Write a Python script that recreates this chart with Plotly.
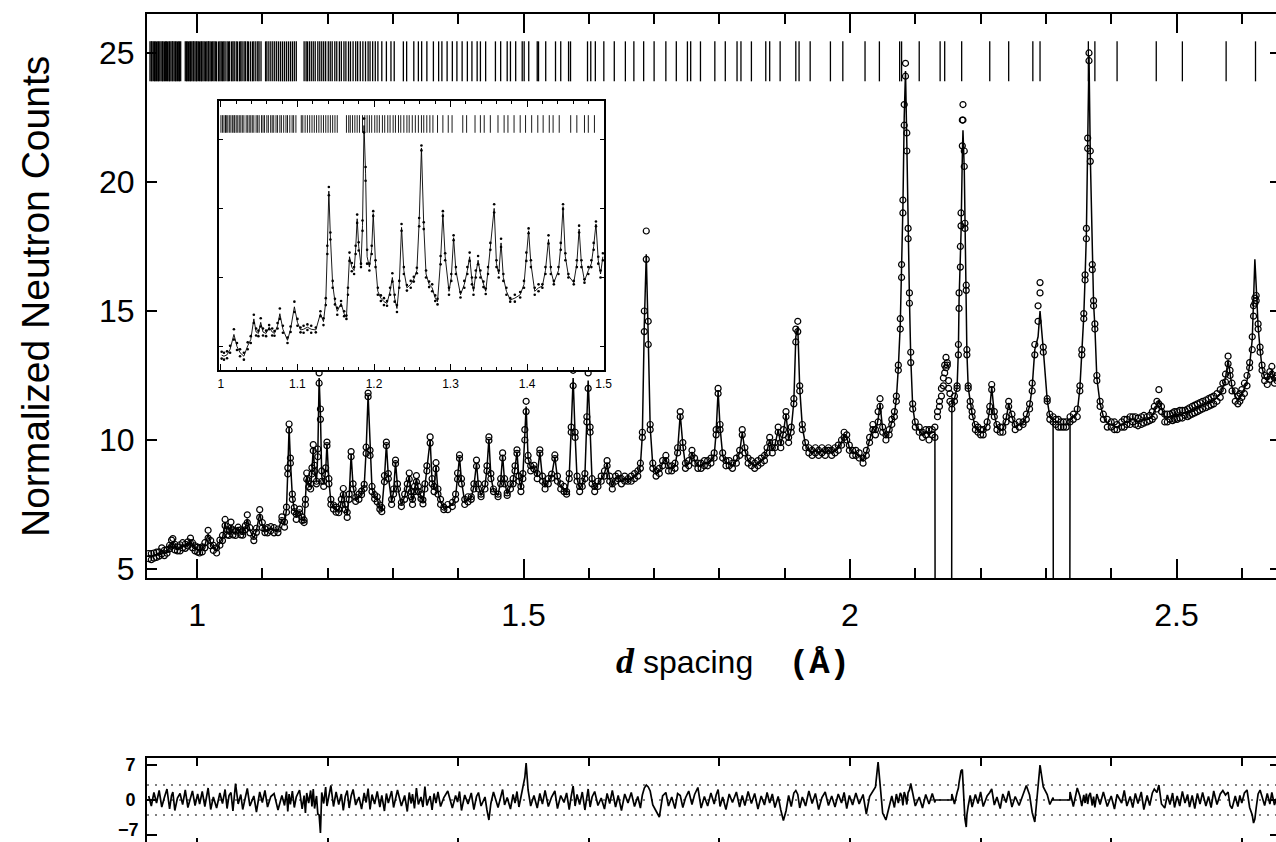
import plotly.graph_objects as go

# ---------------- data ----------------
d_spacing = [
    0.926, 0.930, 0.934, 0.938, 0.942, 0.946, 0.950, 0.954, 0.958, 0.961,
    0.963, 0.966, 0.970, 0.974, 0.978, 0.982, 0.986, 0.990, 0.993, 0.997,
    1.001, 1.004, 1.008, 1.012, 1.017, 1.021, 1.025, 1.030, 1.035, 1.039,
    1.043, 1.046, 1.049, 1.052, 1.055, 1.059, 1.063, 1.067, 1.070, 1.074,
    1.077, 1.081, 1.087, 1.091, 1.096, 1.100, 1.104, 1.108, 1.113, 1.118,
    1.124, 1.130, 1.134, 1.137, 1.139, 1.141, 1.143, 1.146, 1.149, 1.152,
    1.157, 1.161, 1.164, 1.166, 1.168, 1.171, 1.174, 1.176, 1.178, 1.180,
    1.183, 1.185, 1.187, 1.189, 1.191, 1.194, 1.197, 1.199, 1.202, 1.205,
    1.209, 1.213, 1.217, 1.221, 1.224, 1.227, 1.230, 1.233, 1.236, 1.239,
    1.243, 1.248, 1.252, 1.256, 1.259, 1.262, 1.265, 1.268, 1.272, 1.276,
    1.280, 1.283, 1.287, 1.290, 1.293, 1.298, 1.301, 1.304, 1.307, 1.313,
    1.318, 1.322, 1.325, 1.328, 1.330, 1.333, 1.336, 1.339, 1.343, 1.346,
    1.349, 1.352, 1.357, 1.360, 1.363, 1.366, 1.369, 1.373, 1.378, 1.384,
    1.391, 1.396, 1.399, 1.402, 1.405, 1.410, 1.415, 1.420, 1.424, 1.428,
    1.431, 1.435, 1.441, 1.444, 1.447, 1.450, 1.454, 1.461, 1.465, 1.468,
    1.471, 1.475, 1.480, 1.484, 1.487, 1.490, 1.493, 1.496, 1.499, 1.502,
    1.504, 1.507, 1.511,
    1.516, 1.521, 1.525, 1.529, 1.533, 1.538, 1.543, 1.548, 1.552, 1.557,
    1.562, 1.566, 1.570, 1.573, 1.576, 1.579, 1.582, 1.586, 1.590, 1.594,
    1.597, 1.599, 1.602, 1.605, 1.609, 1.614, 1.619, 1.624, 1.628, 1.632,
    1.636, 1.641, 1.645, 1.650, 1.655, 1.660, 1.665, 1.670, 1.675, 1.679,
    1.682, 1.685, 1.688, 1.691, 1.694, 1.698,
    1.703, 1.708, 1.713, 1.718, 1.722, 1.727, 1.732, 1.736, 1.740, 1.744,
    1.748, 1.753, 1.758, 1.762, 1.767, 1.772, 1.777, 1.782, 1.787, 1.792,
    1.795, 1.798, 1.801, 1.805, 1.810, 1.815, 1.820, 1.826, 1.831, 1.835,
    1.839, 1.844, 1.849, 1.854, 1.859, 1.864, 1.869, 1.873, 1.877, 1.881,
    1.885, 1.890, 1.894, 1.898, 1.902, 1.906, 1.910, 1.914, 1.917, 1.920,
    1.923, 1.927, 1.932, 1.937, 1.942, 1.947, 1.952, 1.957, 1.962, 1.967,
    1.972, 1.977, 1.982, 1.987, 1.991, 1.995, 1.999, 2.004, 2.009, 2.014,
    2.020, 2.025, 2.030, 2.035, 2.039, 2.043, 2.046, 2.050, 2.055, 2.060,
    2.064, 2.068, 2.071, 2.074, 2.077, 2.079, 2.081, 2.083, 2.085, 2.087,
    2.089, 2.091, 2.093, 2.096, 2.100, 2.106, 2.111, 2.116, 2.121, 2.126,
    2.130,
    2.1305, 2.134, 2.137, 2.140, 2.143, 2.145, 2.147, 2.149, 2.151, 2.153,
    2.1555,
    2.156, 2.160, 2.164, 2.166, 2.167, 2.169, 2.170, 2.172, 2.173, 2.175,
    2.176, 2.178, 2.179, 2.181, 2.184, 2.187, 2.192, 2.196, 2.200, 2.204,
    2.210, 2.214, 2.217, 2.221, 2.225, 2.230, 2.234, 2.239, 2.243, 2.248,
    2.253, 2.259, 2.265, 2.270, 2.275, 2.279, 2.283, 2.288, 2.291, 2.296,
    2.302, 2.306, 2.311,
    2.3115, 2.315, 2.319, 2.323, 2.327, 2.331, 2.3365,
    2.337, 2.342, 2.348, 2.352, 2.355, 2.358, 2.360, 2.362, 2.364, 2.366,
    2.368, 2.371, 2.373, 2.375, 2.378, 2.383, 2.388, 2.394, 2.400, 2.405,
    2.409, 2.416, 2.420, 2.424, 2.429, 2.433, 2.437, 2.441, 2.446, 2.450,
    2.455, 2.459, 2.463, 2.466, 2.470, 2.473, 2.477, 2.482, 2.486, 2.490,
    2.494, 2.497, 2.501, 2.505, 2.509, 2.513, 2.517, 2.520, 2.524, 2.528,
    2.532, 2.536, 2.540, 2.545, 2.549, 2.553, 2.557, 2.562, 2.567, 2.571,
    2.575, 2.579, 2.582, 2.585, 2.590, 2.594, 2.597, 2.600, 2.604, 2.608,
    2.612, 2.616, 2.618, 2.620, 2.622, 2.625, 2.628, 2.631, 2.635, 2.639,
    2.643, 2.646, 2.650, 2.654,
]

# calculated profile (0 inside the two excluded regions)
y_calc = [
    5.50, 5.48, 5.52, 5.55, 5.58, 5.70, 5.62, 5.68, 5.85, 6.00,
    6.05, 5.85, 5.78, 5.82, 5.92, 5.88, 5.97, 6.10, 5.92, 5.80,
    5.75, 5.72, 5.76, 5.92, 6.35, 6.00, 5.82, 5.72, 6.02, 6.20,
    6.80, 6.42, 6.38, 6.70, 6.42, 6.38, 6.56, 6.42, 6.38, 6.60,
    6.95, 6.50, 6.18, 6.50, 7.15, 6.70, 6.48, 6.50, 6.56, 6.50,
    6.48, 6.95, 6.72, 7.30, 8.80, 10.50, 9.20, 7.80, 7.30, 7.02,
    7.25, 6.95, 6.85, 7.60, 8.60, 8.30, 8.20, 8.80, 9.70, 8.90,
    8.35, 9.50, 12.40, 11.00, 8.60, 8.30, 8.80, 9.85, 8.40, 7.60,
    7.40, 7.30, 7.25, 7.60, 8.00, 7.40, 7.10, 7.80, 9.45, 8.20,
    7.70, 7.80, 7.95, 8.20, 9.60, 11.75, 9.50, 8.10, 7.80, 7.70,
    7.40, 7.30, 8.50, 9.85, 8.60, 7.60, 8.00, 9.15, 8.20, 7.50,
    7.80, 8.20, 8.60, 7.90, 7.60, 8.10, 8.50, 8.10, 7.80, 7.60,
    8.20, 8.90, 10.00, 8.40, 8.10, 9.00, 8.00, 7.60, 7.35, 7.40,
    7.50, 7.80, 8.60, 9.35, 8.40, 7.60, 7.70, 7.75, 8.20, 9.10,
    8.20, 7.85, 8.20, 8.90, 10.05, 8.60, 8.05, 7.85, 8.40, 9.40,
    8.40, 7.90, 8.20, 8.40, 8.90, 9.55, 8.50, 8.10, 8.60, 10.20,
    11.30, 9.30, 8.90,
    8.95, 8.60, 9.55, 8.50, 8.20, 8.40, 8.60, 9.35, 8.50, 8.20,
    8.10, 7.95, 8.60, 10.40, 12.40, 10.20, 8.50, 8.10, 8.30, 8.60,
    10.80, 12.30, 10.40, 8.40, 8.10, 8.30, 8.50, 8.70, 9.10, 8.50,
    8.20, 8.50, 8.60, 8.40, 8.50, 8.45, 8.50, 8.60, 8.70, 9.00,
    10.20, 14.50, 17.20, 14.00, 10.50, 9.00,
    8.70, 8.80, 9.10, 9.30, 8.90, 8.90, 9.00, 9.60, 11.00, 9.80,
    9.00, 9.10, 9.50, 9.20, 9.00, 9.00, 9.10, 9.10, 9.20, 9.40,
    10.30, 11.90, 10.50, 9.40, 9.10, 9.10, 9.00, 9.20, 9.50, 10.30,
    9.60, 9.20, 9.10, 9.00, 9.10, 9.20, 9.30, 9.60, 10.00, 9.60,
    9.80, 10.40, 9.80, 10.30, 11.00, 10.00, 10.40, 11.50, 14.00, 14.40,
    12.00, 10.50, 9.80, 9.60, 9.50, 9.60, 9.50, 9.60, 9.50, 9.60,
    9.50, 9.60, 9.70, 9.90, 10.20, 10.10, 9.70, 9.50, 9.50, 9.40,
    9.20, 9.50, 10.00, 10.50, 10.30, 10.80, 11.40, 10.40, 10.10, 10.30,
    10.70, 11.00, 11.60, 12.80, 14.50, 16.50, 19.00, 22.50, 24.30, 21.50,
    18.00, 15.50, 13.20, 11.30, 10.60, 10.40, 10.20, 10.30, 10.20, 10.30,
    10.30,
    0, 0, 0, 0, 0, 0, 0, 0, 0, 0,
    0,
    11.30, 11.60, 12.05, 13.50, 15.40, 17.00, 18.00, 21.00, 22.00, 20.50,
    18.30, 15.90, 13.40, 12.05, 11.40, 11.00, 10.50, 10.40, 10.30, 10.30,
    10.60, 11.20, 12.05, 11.00, 10.50, 10.40, 10.40, 10.80, 11.40, 10.90,
    10.50, 10.60, 10.65, 10.90, 11.30, 12.05, 13.50, 14.00, 15.00, 13.50,
    11.55, 10.90, 10.80,
    0, 0, 0, 0, 0, 0, 0,
    10.80, 10.90, 11.05, 12.00, 13.40, 14.80, 16.30, 18.00, 21.50, 24.90,
    21.00, 16.70, 15.30, 14.40, 12.40, 11.40, 10.90, 10.65, 10.60, 10.55,
    10.50, 10.60, 10.65, 10.70, 10.75, 10.80, 10.75, 10.70, 10.75, 10.80,
    10.80, 10.85, 10.95, 11.10, 11.35, 11.55, 11.20, 10.85, 10.85, 10.90,
    10.90, 10.95, 10.95, 11.00, 11.00, 11.05, 11.05, 11.10, 11.15, 11.20,
    11.25, 11.30, 11.35, 11.40, 11.45, 11.50, 11.55, 11.65, 11.80, 12.05,
    12.40, 13.10, 12.60, 12.05, 11.70, 11.55, 11.65, 11.80, 12.00, 12.30,
    12.90, 13.90, 15.50, 17.00, 16.00, 14.40, 13.50, 12.80, 12.40, 12.30,
    12.50, 12.70, 12.30, 12.40,
]

# observed counts, first reading of each channel pair (None = no point)
y_obs = [
    5.40, 5.60, 5.42, 5.65, 5.50, 5.82, 5.52, 5.75, 5.78, 6.12,
    6.18, 5.74, 5.86, 5.70, 6.02, 5.80, 6.05, 6.20, 5.82, 5.90,
    5.65, 5.82, 5.66, 6.02, 6.50, 5.90, 5.72, 5.62, 6.12, 6.10,
    6.92, 6.32, 6.46, 6.82, 6.32, 6.46, 6.62, 6.32, 6.45, 6.52,
    7.10, 6.40, 6.10, 6.42, 7.30, 6.60, 6.55, 6.40, 6.64, 6.40,
    6.55, 7.02, 6.62, 7.20, 8.92, 10.62, 9.10, 7.70, 7.22, 7.12,
    7.32, 6.88, 6.80, 7.50, 8.72, 8.42, 8.10, 8.92, 9.82, 8.78,
    8.30, 9.35, 12.60, 11.20, 8.40, 8.20, 8.92, 9.92, 8.30, 7.50,
    7.32, 7.40, 7.18, 7.70, 8.12, 7.30, 7.00, 7.90, 9.55, 8.10,
    7.62, 7.90, 8.02, 8.12, 9.72, 11.82, 9.40, 8.00, 7.72, 7.80,
    7.32, 7.22, 8.62, 9.92, 8.50, 7.50, 8.10, 9.22, 8.10, 7.42,
    7.90, 8.30, 8.72, 7.80, 7.50, 8.20, 8.62, 8.00, 7.72, 7.52,
    8.30, 8.80, 10.12, 8.30, 8.00, 9.12, 7.90, 7.50, 7.30, 7.50,
    7.42, 7.90, 8.72, 9.42, 8.30, 7.50, 7.80, 7.70, 8.30, 9.22,
    8.10, 7.80, 8.30, 8.80, 10.12, 8.50, 8.00, 7.80, 8.50, 9.50,
    8.30, 7.85, 8.30, 8.30, 9.00, 9.62, 8.40, 8.00, 8.70, 10.40,
    11.50, 9.40, 8.80,
    9.02, 8.70, 9.62, 8.40, 8.10, 8.50, 8.52, 9.42, 8.60, 8.10,
    8.20, 7.90, 8.50, 10.50, 12.70, 10.10, 8.40, 8.00, 8.40, 8.70,
    10.90, 12.60, 10.30, 8.30, 8.00, 8.40, 8.40, 8.80, 9.20, 8.40,
    8.10, 8.60, 8.50, 8.30, 8.60, 8.40, 8.60, 8.50, 8.80, 8.90,
    10.30, 15.00, 18.10, 14.60, 10.60, 8.90,
    8.60, 8.90, 9.20, 9.40, 8.80, 9.00, 8.90, 9.70, 11.10, 9.70,
    8.90, 9.20, 9.60, 9.10, 8.90, 9.10, 9.00, 9.20, 9.10, 9.50,
    10.40, 12.00, 10.40, 9.30, 9.00, 9.20, 8.90, 9.30, 9.40, 10.40,
    9.50, 9.10, 9.20, 8.90, 9.20, 9.10, 9.40, 9.50, 10.10, 9.50,
    9.90, 10.50, 9.70, 10.40, 11.10, 9.90, 10.50, 11.60, 14.30, 14.60,
    11.90, 10.40, 9.70, 9.50, 9.60, 9.50, 9.40, 9.70, 9.40, 9.60,
    9.60, 9.50, 9.80, 9.80, 10.30, 10.00, 9.60, 9.40, 9.60, 9.30,
    9.10, 9.60, 9.90, 10.60, 10.40, 11.10, 11.60, 10.30, 10.00, 10.40,
    10.60, 11.10, 11.70, 12.90, 14.70, 16.80, 19.30, 23.00, 24.60, 21.90,
    18.20, 15.70, 13.40, 11.40, 10.50, 10.30, 10.30, 10.20, 10.40, 10.20,
    10.10,
    None, 10.90, 11.30, 11.70, 12.10, 12.60, 13.20, 12.90, 12.30, 11.80,
    None,
    11.40, 11.70, 12.10, 13.70, 15.70, 17.50, 18.80, 22.40, 23.00, 21.20,
    18.40, 15.80, 13.30, 12.00, 11.30, 10.90, 10.60, 10.30, 10.40, 10.20,
    10.70, 11.30, 12.15, 10.90, 10.40, 10.50, 10.30, 10.90, 11.50, 10.80,
    10.40, 10.70, 10.60, 11.00, 11.40, 11.90, 13.30, 15.20, 16.10, 13.60,
    11.60, 10.80, 10.70,
    None, 10.60, 10.80, 10.50, 10.70, 10.50, None,
    10.90, 10.80, 11.20, 12.10, 13.50, 14.90, 16.40, 18.20, 21.70, 25.00,
    21.20, 16.80, 15.20, 14.30, 12.30, 11.30, 11.00, 10.50, 10.70, 10.40,
    10.60, 10.50, 10.80, 10.60, 10.90, 10.70, 10.60, 10.85, 10.60, 10.95,
    10.70, 10.75, 11.10, 11.30, 11.50, 11.95, 11.10, 10.70, 11.00, 10.80,
    11.05, 10.80, 11.10, 10.85, 11.15, 10.95, 11.20, 10.95, 11.30, 11.05,
    11.40, 11.15, 11.50, 11.25, 11.60, 11.35, 11.70, 11.50, 11.95, 12.20,
    12.55, 13.25, 12.50, 11.90, 11.50, 11.40, 11.80, 11.65, 12.20, 12.50,
    12.80, 13.50, 14.80, 15.50, 15.40, 14.50, 13.60, 12.90, 12.30, 12.45,
    12.35, 12.85, 12.20, 12.50,
]

# observed counts, second reading of each channel pair
y_obs_2 = [
    5.60, 5.36, 5.62, 5.45, 5.66, 5.58, 5.72, 5.61, 5.92, 5.88,
    5.92, 5.96, 5.70, 5.94, 5.82, 5.96, 5.89, 6.00, 6.02, 5.70,
    5.85, 5.62, 5.86, 5.82, 6.20, 6.10, 5.92, 5.82, 5.92, 6.30,
    6.68, 6.52, 6.30, 6.58, 6.52, 6.30, 6.50, 6.52, 6.31, 6.68,
    6.80, 6.60, 6.26, 6.58, 7.00, 6.80, 6.41, 6.60, 6.48, 6.60,
    6.41, 6.88, 6.82, 7.40, 8.68, 10.38, 9.30, 7.90, 7.38, 6.92,
    7.18, 7.02, 6.90, 7.70, 8.48, 8.18, 8.30, 8.68, 9.58, 9.02,
    8.40, 9.65, 12.20, 10.80, 8.80, 8.40, 8.68, 9.78, 8.50, 7.70,
    7.48, 7.20, 7.32, 7.50, 7.88, 7.50, 7.20, 7.70, 9.35, 8.30,
    7.78, 7.70, 7.88, 8.28, 9.48, 11.68, 9.60, 8.20, 7.88, 7.60,
    7.48, 7.38, 8.38, 9.78, 8.70, 7.70, 7.90, 9.08, 8.30, 7.58,
    7.70, 8.10, 8.48, 8.00, 7.70, 8.00, 8.38, 8.20, 7.88, 7.68,
    8.10, 9.00, 9.88, 8.50, 8.20, 8.88, 8.10, 7.70, 7.40, 7.30,
    7.58, 7.70, 8.48, 9.28, 8.50, 7.70, 7.60, 7.80, 8.10, 8.98,
    8.30, 7.90, 8.10, 9.00, 9.98, 8.70, 8.10, 7.90, 8.30, 9.30,
    8.50, 7.95, 8.10, 8.50, 8.80, 9.48, 8.60, 8.20, 8.50, 10.00,
    11.10, 9.20, 9.00,
    8.88, 8.50, 9.48, 8.60, 8.30, 8.30, 8.68, 9.28, 8.40, 8.30,
    8.00, 8.00, 8.70, 10.30, 12.10, 10.30, 8.60, 8.20, 8.20, 8.50,
    10.70, 12.00, 10.50, 8.50, 8.20, 8.20, 8.60, 8.60, 9.00, 8.60,
    8.30, 8.40, 8.70, 8.50, 8.40, 8.50, 8.40, 8.70, 8.60, 9.10,
    10.10, 14.20, 17.00, 13.70, 10.40, 9.10,
    8.80, 8.70, 9.00, 9.20, 9.00, 8.80, 9.10, 9.50, 10.90, 9.90,
    9.10, 9.00, 9.40, 9.30, 9.10, 8.90, 9.20, 9.00, 9.30, 9.30,
    10.20, 11.80, 10.60, 9.50, 9.20, 9.00, 9.10, 9.10, 9.60, 10.20,
    9.70, 9.30, 9.00, 9.10, 9.00, 9.30, 9.20, 9.70, 9.90, 9.70,
    9.70, 10.30, 9.90, 10.20, 10.90, 10.10, 10.30, 11.40, 13.80, 14.20,
    12.10, 10.60, 9.90, 9.70, 9.40, 9.70, 9.60, 9.50, 9.60, 9.70,
    9.40, 9.70, 9.60, 10.00, 10.10, 10.20, 9.80, 9.60, 9.40, 9.50,
    9.30, 9.40, 10.10, 10.40, 10.20, 10.70, 11.30, 10.50, 10.20, 10.20,
    10.80, 10.90, 11.50, 12.70, 14.30, 16.30, 18.80, 22.20, 24.10, 21.20,
    17.80, 15.30, 13.00, 11.20, 10.70, 10.50, 10.10, 10.40, 10.00, 10.40,
    10.50,
    None, 11.10, 11.50, 12.00, 12.40, 12.90, 12.80, 13.00, 12.00, 11.50,
    None,
    11.20, 11.50, 12.00, 13.30, 15.10, 16.70, 18.30, 21.40, 22.40, 20.60,
    18.20, 16.00, 13.50, 12.10, 11.50, 11.10, 10.40, 10.50, 10.20, 10.40,
    10.50, 11.10, 11.95, 11.10, 10.60, 10.30, 10.50, 10.70, 11.30, 11.00,
    10.60, 10.50, 10.70, 10.80, 11.20, 12.20, 13.70, 14.60, 15.70, 13.40,
    11.50, 11.00, 10.90,
    None, 10.80, 10.50, 10.70, 10.50, 10.70, None,
    10.70, 11.00, 10.90, 11.90, 13.30, 14.70, 16.20, 17.80, 21.30, 24.70,
    20.80, 16.60, 15.40, 14.50, 12.50, 11.50, 10.80, 10.80, 10.50, 10.70,
    10.40, 10.70, 10.50, 10.80, 10.60, 10.90, 10.90, 10.55, 10.90, 10.65,
    10.90, 10.95, 10.80, 10.90, 11.20, 11.40, 11.30, 11.00, 10.70, 11.00,
    10.75, 11.10, 10.80, 11.15, 10.85, 11.15, 10.90, 11.25, 11.00, 11.35,
    11.10, 11.45, 11.20, 11.55, 11.30, 11.65, 11.40, 11.80, 11.65, 11.90,
    12.25, 12.95, 12.70, 12.20, 11.90, 11.70, 11.50, 11.95, 11.80, 12.10,
    13.00, 14.00, 15.20, 15.30, 15.60, 14.30, 13.40, 12.70, 12.50, 12.15,
    12.65, 12.55, 12.40, 12.30,
]

# normalised residual (obs - calc)/sigma, flat 0 in excluded regions
resid = [
    0.8, -1.2, 1.5, -0.6, 1.9, -1.4, 0.5, 2.2, -1.8, 0.9,
    1.6, -2.1, 0.4, 1.3, -0.9, 2.0, -1.5, 0.7, 1.8, -1.1,
    1.2, -0.8, 1.7, -1.3, 2.4, -1.9, 0.6, -1.6, 1.4, -0.7,
    2.1, -1.7, 0.9, 1.5, -2.2, 3.3, -0.8, 1.1, -1.9, 0.5,
    2.3, -1.2, 0.8, -2.4, 1.6, -0.5, 1.9, -1.4, 0.7, 1.3,
    -2.0, 0.9, -1.1, 1.7, -2.3, 1.2, -0.9, 1.8, -1.5, 0.6,
    2.0, -1.8, 0.9, -2.6, 1.4, -0.6, 1.9, -1.3, 2.2, -1.7,
    0.8, -2.8, -3.0, -6.6, 1.5, -0.7, 2.6, -1.2, 1.0, 2.9,
    -1.3, 1.6, -0.9, 1.2, -2.1, 0.7, 1.9, -1.6, 0.8, 2.1,
    -1.0, 0.6, -1.8, 1.4, -0.5, 2.3, -1.9, 1.1, -0.8, 1.7,
    -1.4, 0.9, -2.2, 1.3, -0.6, 1.8, -1.5, 0.4, 2.0, -1.2,
    0.9, -2.3, 1.5, -0.7, 1.2, -1.7, 2.4, -0.9, 0.6, -1.4,
    2.7, -1.1, 0.8, -2.0, 1.3, -0.6, 1.6, -1.3, 0.5, 1.8,
    -1.6, 0.9, -0.4, 1.7, -2.1, 1.0, -0.8, 1.4, -1.9, 0.7,
    1.5, -1.2, 0.6, -2.0, -4.0, -0.7, 1.6, -1.5, 0.9, 2.1,
    -1.0, 0.5, -1.8, 1.1, -0.6, 1.7, -1.4, 0.8, 2.2, 4.5,
    7.4, 2.0, -1.2,
    0.9, -1.6, 1.3, -0.8, 1.9, -1.3, 0.6, 1.8, -1.7, 0.9,
    -0.5, 1.4, -1.9, 0.7, 2.8, -1.2, 1.1, -0.9, 1.6, -2.0,
    0.8, 2.2, -1.4, 0.6, 1.7, -1.1, 0.4, -1.8, 1.3, -0.7,
    1.9, -1.4, 0.9, -2.1, 1.2, -0.6, 1.5, -1.3, 0.7, -1.6,
    1.0, 2.4, 3.0, 2.6, 1.8, -1.0,
    -2.2, -3.4, 0.8, 1.5, -1.2, 0.6, -1.7, 1.3, 0.9, -1.5,
    0.4, 1.8, -0.9, 1.1, 2.5, -1.6, 0.7, -1.2, 1.4, -0.8,
    1.0, 2.1, -1.3, 0.6, -1.9, 1.2, -0.5, 1.6, -1.4, 0.9,
    -1.1, 1.7, -0.7, 1.3, -1.8, 0.8, -1.0, 1.5, -0.6, 1.2,
    -1.5, 0.7, -2.0, -4.1, -2.2, 0.9, -1.3, 1.4, 1.9, 1.1,
    -1.6, 0.6, -1.2, 1.8, -0.7, 1.3, -1.9, 0.5, 1.6, -1.1,
    0.8, -1.4, 1.2, -0.6, 1.5, -1.7, 0.9, -1.0, 1.4, -0.8,
    1.1, -2.8, 0.7, 1.9, 2.6, 7.6, 3.2, -2.6, -4.0, -1.2,
    0.8, -1.5, 1.2, -0.6, 1.4, 0.9, -1.1, 1.6, 0.8, -0.9,
    1.5, 2.0, 3.3, 1.4, -1.2, 0.6, -1.6, 1.1, -0.8, 1.3,
    -0.5,
    0, 0, 0, 0, 0, 0, 0, 0, 0, 0,
    0,
    1.2, -0.8, 1.5, 2.4, 3.5, 4.6, 5.8, 6.1, 3.0, -1.5,
    -3.8, -5.4, -3.0, -1.2, 0.9, -1.4, 1.1, -0.7, 1.6, -1.3,
    0.8, 1.5, 2.2, -1.0, 0.6, -1.7, 1.2, -0.5, 1.8, -1.4,
    0.7, -1.1, 1.3, 2.9, 1.0, -2.5, -4.4, 3.8, 7.0, 2.6,
    1.1, -0.9, 0.5,
    0, 0, 0, 0, 0, 0, 0,
    1.6, -1.3, 2.4, 0.8, -1.2, 1.0, -0.6, 1.3, -0.8, 0.9,
    1.4, -1.1, 0.7, -1.5, 1.2, -0.9, 1.6, -1.3, 0.8, -1.8,
    1.1, -0.6, 1.9, -1.2, 0.7, -1.5, 1.3, -0.7, 1.6, -1.9,
    0.9, -1.1, 1.4, 2.2, 1.5, 3.0, -0.8, -1.6, 1.0, -0.9,
    1.4, -1.5, 0.8, -1.2, 1.7, -0.6, 1.1, -1.4, 0.9, -1.7,
    1.3, -0.8, 1.5, -1.2, 0.7, -1.5, 1.8, -0.9, 1.2, 1.9,
    1.0, 1.6, -1.1, -1.7, 0.8, -1.3, 0.9, -0.6, 1.4, 2.0,
    -1.5, -3.0, -4.6, -3.8, -1.6, 1.2, 2.0, 0.7, -1.1, 1.3,
    -0.8, 1.5, -1.0, 0.6,
]

# reflection positions (tick marks)
reflection_d = [
    0.928, 0.930, 0.931, 0.933, 0.935, 0.936, 0.938, 0.940, 0.941, 0.943,
    0.945, 0.947, 0.948, 0.950, 0.952, 0.953, 0.955, 0.957, 0.958, 0.960,
    0.962, 0.963, 0.965, 0.967, 0.968, 0.970, 0.972, 0.973, 0.975, 0.982,
    0.984, 0.985, 0.987, 0.989, 0.990, 0.992, 0.994, 0.995, 0.997, 0.999,
    1.000, 1.002, 1.004, 1.006, 1.007, 1.009, 1.011, 1.013, 1.015, 1.017,
    1.018, 1.020, 1.022, 1.024, 1.026, 1.028, 1.030, 1.033, 1.035, 1.037,
    1.039, 1.041, 1.043, 1.046, 1.048, 1.050, 1.053, 1.055, 1.057, 1.060,
    1.062, 1.065, 1.067, 1.069, 1.072, 1.074, 1.077, 1.079, 1.082, 1.085,
    1.087, 1.090, 1.093, 1.095, 1.098, 1.105, 1.107, 1.110, 1.113, 1.116,
    1.119, 1.122, 1.125, 1.128, 1.131, 1.134, 1.137, 1.140, 1.143, 1.146,
    1.149, 1.152, 1.164, 1.167, 1.169, 1.172, 1.175, 1.178, 1.181, 1.185,
    1.188, 1.191, 1.194, 1.197, 1.201, 1.204, 1.207, 1.211, 1.214, 1.218,
    1.221, 1.225, 1.228, 1.232, 1.235, 1.239, 1.243, 1.246, 1.250, 1.254,
    1.258, 1.262, 1.265, 1.269, 1.273, 1.277,
    1.283, 1.290, 1.297, 1.302, 1.316, 1.321, 1.332, 1.339, 1.344, 1.352,
    1.362, 1.370, 1.375, 1.383, 1.391, 1.398, 1.406, 1.414, 1.421, 1.429,
    1.434, 1.442, 1.457, 1.465, 1.475, 1.480, 1.488, 1.498, 1.501, 1.508,
    1.521, 1.523, 1.534, 1.549, 1.557, 1.569, 1.572, 1.598, 1.603, 1.610,
    1.623, 1.639, 1.656, 1.669,
    1.684, 1.700, 1.718, 1.734, 1.751, 1.756, 1.771, 1.793, 1.809, 1.827,
    1.833, 1.849, 1.871, 1.877, 1.893, 1.917, 1.922, 1.939, 1.970, 1.989,
    2.023, 2.045, 2.076, 2.079, 2.106, 2.138, 2.145, 2.171, 2.214, 2.243,
    2.280, 2.291, 2.365, 2.375, 2.409, 2.469, 2.509, 2.576, 2.621,
]

# residual-panel tick labels
resid_tickvals = [-7, 0, 7]
resid_ticktext = ["", "0", "7"]   # the -7 label is placed separately (see below)

assert len(d_spacing) == len(y_calc) == len(y_obs) == len(y_obs_2) == len(resid), (
    len(d_spacing), len(y_calc), len(y_obs), len(y_obs_2), len(resid))

# ---------------- layout helpers ----------------
# The figure is a little larger than the 1276x842 window so that the right
# and bottom frame lines fall just outside the visible area (as in the scan).
W, H = 1280, 846
FONT = "Liberation Sans"


def vsegs(vals, y0, y1):
    xs, ys = [], []
    for v in vals:
        xs += [v, v, None]
        ys += [y0, y1, None]
    return xs, ys


obs_marker = dict(symbol="circle-open", size=6, color="black",
                  line=dict(width=1.2, color="black"))

fig = go.Figure()

# main panel
fig.add_trace(go.Scatter(x=d_spacing, y=y_calc, mode="lines",
                         line=dict(color="black", width=1.5),
                         xaxis="x", yaxis="y", hoverinfo="skip"))
fig.add_trace(go.Scatter(x=d_spacing, y=y_obs, mode="markers", marker=obs_marker,
                         xaxis="x", yaxis="y"))
fig.add_trace(go.Scatter(x=d_spacing, y=y_obs_2, mode="markers", marker=obs_marker,
                         xaxis="x", yaxis="y"))
tx, ty = vsegs(reflection_d, 23.9, 25.45)
fig.add_trace(go.Scatter(x=tx, y=ty, mode="lines",
                         line=dict(color="black", width=1.3),
                         xaxis="x", yaxis="y", hoverinfo="skip"))

# residual panel
fig.add_trace(go.Scatter(x=d_spacing, y=resid, mode="lines",
                         line=dict(color="black", width=1.7),
                         xaxis="x2", yaxis="y2"))

# inset (1.0 - 1.5 A)
ins = [i for i, d in enumerate(d_spacing) if 0.9975 <= d <= 1.5005]
ins_d = [d_spacing[i] for i in ins]
fig.add_trace(go.Scatter(x=ins_d, y=[y_calc[i] for i in ins],
                         mode="lines", line=dict(color="black", width=0.9),
                         xaxis="x3", yaxis="y3", hoverinfo="skip"))
for series in (y_obs, y_obs_2):
    fig.add_trace(go.Scatter(x=ins_d, y=[series[i] for i in ins],
                             mode="markers",
                             marker=dict(symbol="circle", size=2.6, color="black"),
                             xaxis="x3", yaxis="y3"))
itx, ity = vsegs([v for v in reflection_d if 1.0 <= v <= 1.495], 12.19, 12.7)
fig.add_trace(go.Scatter(x=itx, y=ity, mode="lines",
                         line=dict(color="black", width=0.9),
                         xaxis="x3", yaxis="y3", hoverinfo="skip"))

axis_common = dict(showline=True, linecolor="black", mirror="allticks",
                   showgrid=False, zeroline=False, tickcolor="black",
                   automargin=False)

x_dom = [147 / W, 1.0]
x_rng = [0.9234, 2.6585]
resid_font = dict(family=FONT, size=18, color="black", weight="bold")

fig.update_layout(
    width=W, height=H,
    margin=dict(l=0, r=0, t=0, b=0),
    paper_bgcolor="white", plot_bgcolor="white",
    showlegend=False,
    xaxis=dict(domain=x_dom, range=x_rng, anchor="y",
               tick0=1, dtick=0.5, ticks="inside", ticklen=19, tickwidth=2,
               linewidth=2, ticklabelstandoff=8,
               tickfont=dict(family=FONT, size=32, color="black"),
               minor=dict(tick0=1, dtick=0.1, ticks="inside", ticklen=10,
                          tickwidth=1.5, tickcolor="black", showgrid=False),
               **axis_common),
    yaxis=dict(domain=[1 - 578 / H, 1 - 14 / H], range=[4.651, 26.51], anchor="x",
               tick0=5, dtick=5, ticks="inside", ticklen=10, tickwidth=2,
               linewidth=2, ticklabelstandoff=4,
               tickfont=dict(family=FONT, size=32, color="black"),
               **axis_common),
    xaxis2=dict(domain=x_dom, range=x_rng, anchor="y2",
                tick0=1, dtick=0.2, ticks="inside", ticklen=8, tickwidth=2,
                linewidth=2, showticklabels=False, **axis_common),
    yaxis2=dict(domain=[0, 1 - 758 / H], range=[-9.2, 8.4], anchor="x2",
                tickmode="array", tickvals=resid_tickvals, ticktext=resid_ticktext,
                ticks="inside", ticklen=10, tickwidth=2,
                linewidth=2, ticklabelstandoff=6,
                tickfont=resid_font, **axis_common),
    xaxis3=dict(domain=[219 / W, 604 / W], range=[0.9975, 1.5005], anchor="y3",
                tick0=1, dtick=0.1, ticks="inside", ticklen=6, tickwidth=1,
                linewidth=1.5, ticklabelstandoff=2,
                tickfont=dict(family=FONT, size=12, color="black"),
                minor=dict(tick0=1, dtick=0.02, ticks="inside", ticklen=3,
                           tickwidth=1, tickcolor="black", showgrid=False),
                **axis_common),
    yaxis3=dict(domain=[1 - 370 / H, 1 - 101 / H], range=[5.32, 13.11], anchor="x3",
                tick0=6, dtick=2, ticks="inside", ticklen=4, tickwidth=1,
                linewidth=1.5, showticklabels=False, **axis_common),
)

# dotted guide lines in the residual panel
for lvl in (3, 0, -3):
    fig.add_shape(type="line", xref="paper", yref="y2",
                  x0=147 / W, x1=1.0, y0=lvl, y1=lvl,
                  line=dict(color="black", width=1.2, dash="2px,6px"), layer="below")

# "-7" label of the residual axis, nudged up so it stays inside the window
fig.add_annotation(text="\u22127", xref="paper", yref="paper",
                   x=141 / W, y=1 - 830 / H, showarrow=False,
                   xanchor="right", yanchor="middle", font=resid_font)

fig.add_annotation(text="Normalized Neutron Counts", xref="paper", yref="paper",
                   x=35 / W, y=1 - 297 / H, textangle=-90, showarrow=False,
                   xanchor="center", yanchor="middle",
                   font=dict(family=FONT, size=39, color="black"))
fig.add_annotation(
    text=("<span style='font-family:Liberation Serif;font-size:36px'><b><i>d</i></b></span>"
          " spacing\u00a0\u00a0\u00a0\u00a0"
          "<span style='font-family:Liberation Mono;font-size:34px'><b>(\u00c5)</b></span>"),
    xref="paper", yref="paper", x=733 / W, y=1 - 662 / H, showarrow=False,
    xanchor="center", yanchor="middle",
    font=dict(family=FONT, size=32, color="black"))

fig.write_html("out.html",
               config={"displayModeBar": False},
               post_script="document.body.style.margin='0px';"
                           "document.body.style.overflow='hidden';")
